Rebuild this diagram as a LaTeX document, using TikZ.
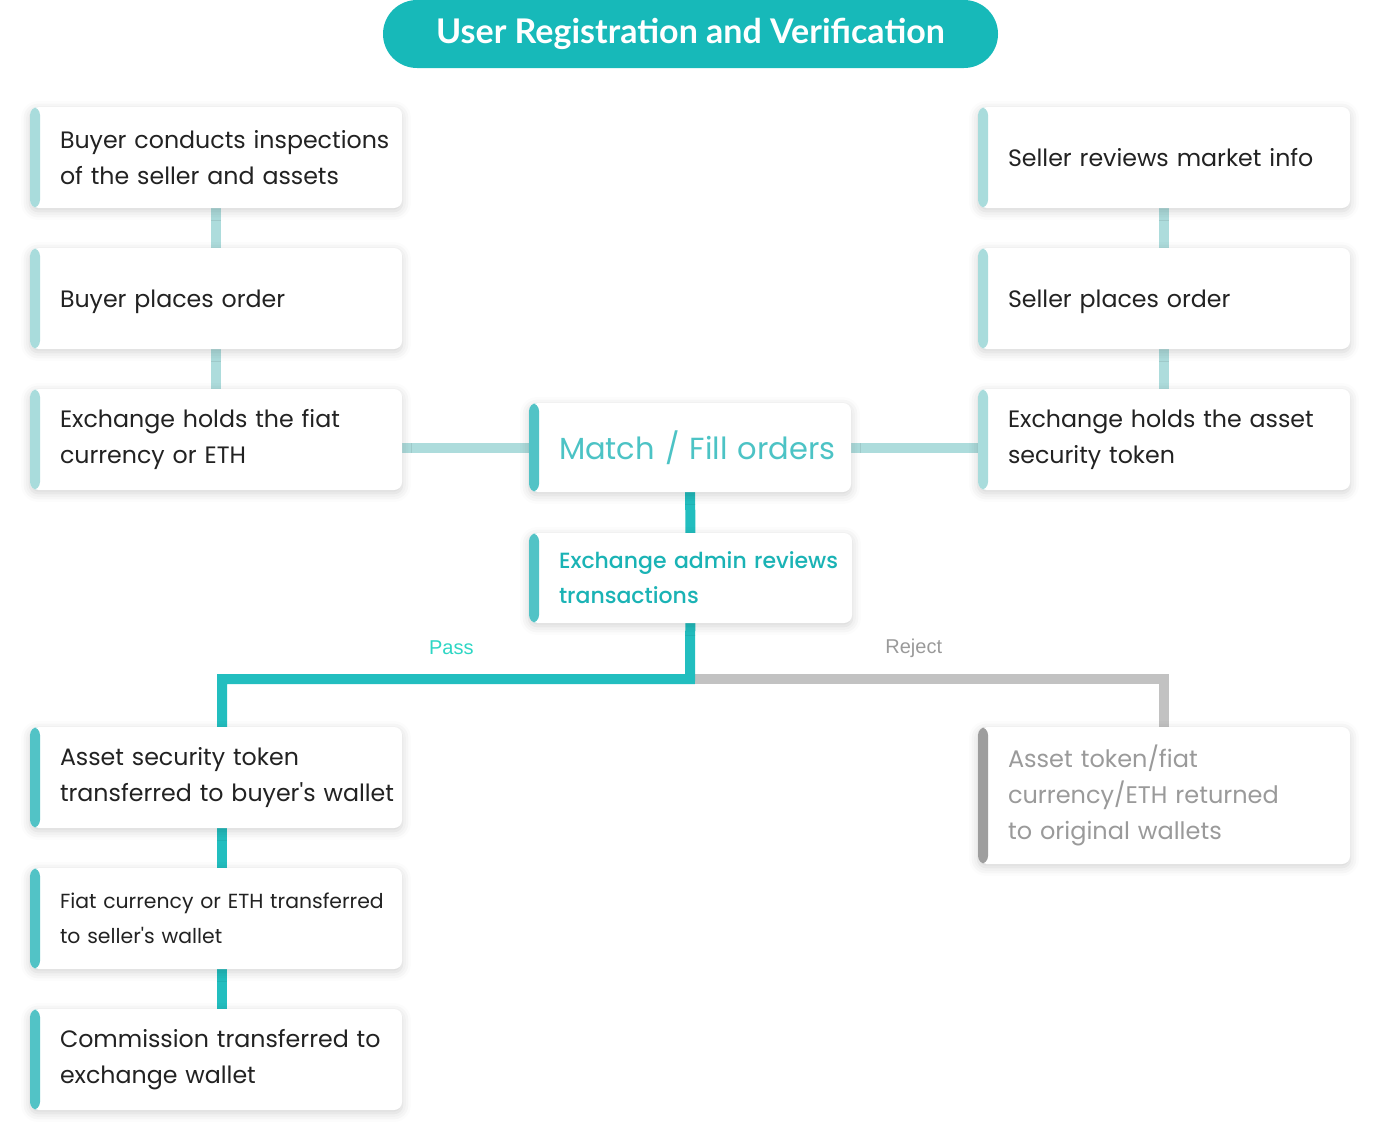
\documentclass[tikz,border=0pt]{standalone}
\usepackage{fontspec}
\setmainfont{Poppins}[Ligatures=TeXOff]
\newfontfamily\titlefont{Lato}
\newfontfamily\medfont{Poppins Medium}[Ligatures=TeXOff]
\newfontfamily\labelfont{Liberation Sans}
\usetikzlibrary{shadows.blur, backgrounds}

\definecolor{titleteal}{HTML}{17B9B9}
\definecolor{barlight}{HTML}{A9DCDC}
\definecolor{barteal}{HTML}{52C3C6}
\definecolor{bargrey}{HTML}{9E9E9E}
\definecolor{linelight}{HTML}{ADDCDC}
\definecolor{lineteal}{HTML}{22BEBF}
\definecolor{linegrey}{HTML}{C2C2C2}
\definecolor{textdark}{HTML}{222222}
\definecolor{textgrey}{HTML}{9A9A9A}
\definecolor{matchtext}{HTML}{4CC3C5}
\definecolor{admintext}{HTML}{1AB3B5}
\definecolor{passtext}{HTML}{2DD6C4}

\tikzset{bar/.style={path picture={\fill[#1] (path picture bounding box.south west)
      rectangle ([xshift=10pt]path picture bounding box.north west);}}}

\begin{document}
\begin{tikzpicture}[x=1pt, y=-1pt, inner sep=0pt, align=left]

  \tikzstyle{card}=[rectangle, rounded corners=8pt, fill=white, minimum width=372pt,
  minimum height=101pt, text width=372pt, inner xsep=0pt, text=textdark,
  font=\fontsize{23.7}{36}\selectfont, execute at begin node={\setlength{\leftskip}{30pt}},
  blur shadow={shadow xshift=0pt, shadow yshift=-3pt, shadow blur radius=9pt, shadow opacity=18}]
  \tikzstyle{one line}=[text depth=0pt]
  \tikzstyle{pill}=[rectangle, rounded corners=34pt, fill=titleteal, minimum width=615pt,
  minimum height=68pt, text=white, align=center, font=\titlefont\bfseries\fontsize{34}{40}\selectfont]
  \tikzstyle{light line}=[line width=10pt, linelight]
  \tikzstyle{pass line}=[line width=10pt, lineteal]
  \tikzstyle{reject line}=[line width=10pt, linegrey]
  \tikzstyle{branch}=[font=\labelfont\fontsize{20}{24}\selectfont, yshift=31pt]

  \useasboundingbox (0,0) rectangle (1380,1140);

  \node[pill] (title) at (690.5,34) {User Registration and Verification};

  \node[card, bar=barlight] (buy1) at (216,157.5) {Buyer conducts inspections\\of the seller and assets};
  \node[card, bar=barlight, one line] (buy2) at (216,298.5) {Buyer places order};
  \node[card, bar=barlight] (buy3) at (216,439.5) {Exchange holds the fiat\\currency or ETH};

  \node[card, bar=barlight, one line] (sell1) at (1164,157.5) {Seller reviews market info};
  \node[card, bar=barlight, one line] (sell2) at (1164,298.5) {Seller places order};
  \node[card, bar=barlight] (sell3) at (1164,439.5) {Exchange holds the asset\\security token};

  \node[card, bar=barteal, minimum width=322pt, minimum height=89pt, text width=322pt,
  text=matchtext, font=\fontsize{30.5}{36}\selectfont] (match) at (690,447.5) {Match / Fill orders};
  \node[card, bar=barteal, minimum width=323pt, minimum height=90pt, text width=323pt,
  text=admintext, font=\medfont\fontsize{22}{35}\selectfont] (admin) at (690.5,578)
  {Exchange admin reviews\\transactions};

  \node[card, bar=barteal] (done1) at (216,777.5) {Asset security token\\transferred to buyer's wallet};
  \node[card, bar=barteal, font=\fontsize{20.4}{35}\selectfont] (done2) at (216,918.5)
  {Fiat currency or ETH transferred\\to seller's wallet};
  \node[card, bar=barteal] (done3) at (216,1059.5) {Commission transferred to\\exchange wallet};

  \node[card, bar=bargrey, minimum height=137pt, text=textgrey, font=\fontsize{24}{36}\selectfont]
  (back) at (1164,795.5) {Asset token/fiat\\currency/ETH returned\\to original wallets};

  \coordinate (fork) at (690,679);

  \begin{scope}[on background layer]
    \path[light line] (buy1) edge (buy2) (buy2) edge (buy3)
    (sell1) edge (sell2) (sell2) edge (sell3);
    \draw[light line] (match) -- (match -| buy3);
    \draw[light line] (match) -- (match -| sell3);
    \draw[reject line] (fork) -| node[branch, pos=0.236, text=textgrey] {Reject} (back);
    \draw[pass line] (match) -- (admin) -- (fork)
    -| node[branch, pos=0.255, text=passtext] {Pass} ([xshift=6pt]done1.center);
    \draw[pass line] ([xshift=6pt]done1.center) -- ([xshift=6pt]done3.center);
  \end{scope}
\end{tikzpicture}
\end{document}
